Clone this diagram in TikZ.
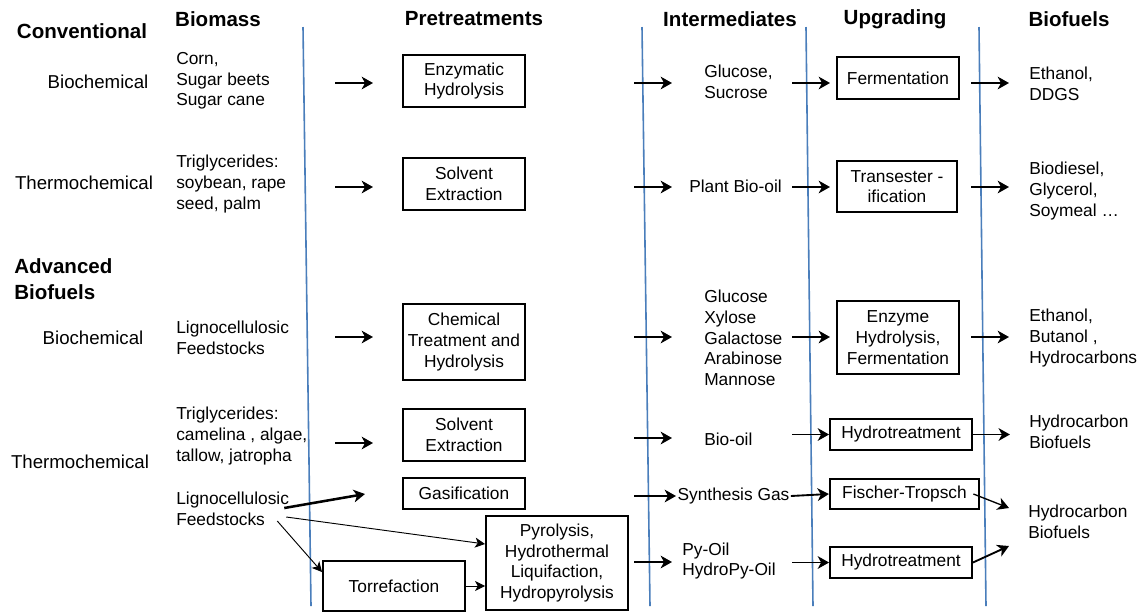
\documentclass[tikz,border=0pt]{standalone}
\usepackage{fontspec}
\setmainfont{Liberation Sans}
\usetikzlibrary{arrows.meta,calc}
\definecolor{ink}{HTML}{000000}
\definecolor{rule}{HTML}{4A7EBB}
\tikzset{
  txt/.style={font=\fontsize{13}{15.5}\selectfont,align=left,inner sep=0pt,anchor=west,text=ink},
  cat/.style={font=\fontsize{14}{16}\selectfont,inner sep=0pt,text=ink},
  hdr/.style={font=\fontsize{15.4}{19.5}\selectfont\bfseries,inner sep=0pt,text=ink},
  box/.style={draw=ink,line width=1.4pt,align=center,inner sep=1pt,font=\fontsize{13}{15.5}\selectfont},
  ar/.style={-{Stealth[length=8.5pt,width=9.5pt,inset=2.5pt]},draw=ink,line width=1.4pt},
  arl/.style={-{Stealth[length=7.5pt,width=7.5pt,inset=2pt]},draw=ink,line width=0.7pt},
  sep/.style={draw=rule,line width=1.2pt},
}
\begin{document}
\begin{tikzpicture}[x=0.75pt,y=-0.75pt]
  \useasboundingbox (0,0) rectangle (1147,612);
  % column separators
  \draw[sep] (303,27) -- (311,606);
  \draw[sep] (642,27) -- (650,606);
  \draw[sep] (806,27) -- (813,606);
  \draw[sep] (979,27) -- (986,606);
  % headers
  \node[hdr] (conv) at (82,31) {Conventional};
  \node[hdr] (h1) at (218,19) {Biomass};
  \node[hdr] (h2) at (474,19) {Pretreatments};
  \node[hdr] (h3) at (730,19) {Intermediates};
  \node[hdr] (h4) at (895,19) {Upgrading};
  \node[hdr] (h5) at (1069,19) {Biofuels};
  \node[hdr,align=left,anchor=west] (adv) at (14,279) {Advanced\\Biofuels};
  % categories
  \node[cat] (cat1) at (98,82) {Biochemical};
  \node[cat] (cat2) at (84,183) {Thermochemical};
  \node[cat] (cat3) at (93,338) {Biochemical};
  \node[cat] (cat4) at (80,462) {Thermochemical};
  % biomass
  \node[txt] (bm1) at (176,81) {Corn,\\Sugar beets\\Sugar cane};
  \node[txt] (bm2) at (176,184) {Triglycerides:\\soybean, rape\\seed, palm};
  \node[txt] (bm3) at (176,338) {Lignocellulosic\\Feedstocks};
  \node[txt] (bm4) at (176,436) {Triglycerides:\\camelina , algae,\\tallow, jatropha};
  \node[txt] (lig2) at (176,509) {Lignocellulosic\\Feedstocks};
  % pretreatments
  \node[box,minimum width=92pt,minimum height=39pt] (pe1) at (464,81) {Enzymatic\\Hydrolysis};
  \node[box,minimum width=92pt,minimum height=39pt] (pe2) at (464,184) {Solvent\\Extraction};
  \node[box,minimum width=92pt,minimum height=57pt] (pe3) at (464,342) {Chemical\\Treatment and\\Hydrolysis};
  \node[box,minimum width=92pt,minimum height=39pt] (pe4) at (464,435) {Solvent\\Extraction};
  \node[box,minimum width=92pt,minimum height=23pt] (pe5) at (464,493.5) {Gasification};
  \node[box,minimum width=106.5pt,minimum height=70.5pt] (pe6) at (557,563) {Pyrolysis,\\Hydrothermal\\Liquifaction,\\Hydropyrolysis};
  \node[box,minimum width=106.5pt,minimum height=37.5pt] (pe7) at (394,586) {Torrefaction};
  % intermediates
  \node[txt] (im1) at (704,82) {Glucose,\\Sucrose};
  \node[txt] (im2) at (689,186) {Plant Bio-oil};
  \node[txt] (im3) at (704,338) {Glucose\\Xylose\\Galactose\\Arabinose\\Mannose};
  \node[txt] (im4) at (704,439) {Bio-oil};
  \node[txt,inner sep=1pt] (syn) at (676,496) {Synthesis Gas};
  \node[txt] (im6) at (682,561) {Py-Oil\\HydroPy-Oil};
  % upgrading
  \node[box,minimum width=91.5pt,minimum height=31.5pt] (up1) at (898,78) {Fermentation};
  \node[box,minimum width=90pt,minimum height=38pt] (up2) at (897,186.5) {Transester -\\ification};
  \node[box,minimum width=91.5pt,minimum height=55pt] (up3) at (898,337.5) {Enzyme\\Hydrolysis,\\Fermentation};
  \node[box,minimum width=106.5pt,minimum height=23pt] (up4) at (901,434.5) {Hydrotreatment};
  \node[box,minimum width=112pt,minimum height=22.5pt] (up5) at (904.5,494) {Fischer-Tropsch};
  \node[box,minimum width=106.5pt,minimum height=23pt] (up6) at (901,562.5) {Hydrotreatment};
  % biofuels
  \node[txt] (bf1) at (1029,84) {Ethanol,\\DDGS};
  \node[txt] (bf2) at (1029,191) {Biodiesel,\\Glycerol,\\Soymeal …};
  \node[txt] (bf3) at (1029,338) {Ethanol,\\Butanol ,\\Hydrocarbons};
  \node[txt] (bf4) at (1029,432) {Hydrocarbon\\Biofuels};
  \node[txt] (bf5) at (1028,522) {Hydrocarbon\\Biofuels};
  % arrow columns and rows
  \coordinate (ca) at (335,0);
  \coordinate (cb) at (634,0);
  \coordinate (cc) at (792,0);
  \coordinate (cd) at (971,0);
  \coordinate (r1) at (0,83);
  \coordinate (r2) at (0,187);
  \coordinate (r3) at (0,337);
  \coordinate (r4) at (0,443);
  \coordinate (r5) at (0,438);
  \coordinate (r6) at (0,562);
  \coordinate (gasin) at (365,494);
  \coordinate (ftend) at (1009,508);
  \coordinate (htend) at (1009,546);
  \foreach \r in {r1,r2,r3} {
    \draw[ar] (ca |- \r) -- ++(38,0);
    \draw[ar] (cb |- \r) -- ++(38,0);
    \draw[ar] (cc |- \r) -- ++(38,0);
    \draw[ar] (cd |- \r) -- ++(38,0);
  }
  \draw[ar] (ca |- r4) -- ++(38,0);
  \draw[ar] (cb |- r5) -- ++(38,0);
  \draw[ar] (cc |- up4.west) -- (up4.west);
  \draw[ar] (up4.east) -- ++(37,0);
  \draw[ar] (cb |- syn.west) -- (syn.west);
  \draw[ar] (syn.east) -- (up5.west);
  \draw[ar,line width=1pt] ([xshift=-5pt]up5.east) -- (ftend);
  \draw[ar] (cb |- r6) -- ++(38,0);
  \draw[ar] (cc |- up6.west) -- (up6.west);
  \draw[ar] (up6.east) -- (htend);
  % lignocellulosic routes
  \draw[ar,line width=1.9pt] ($(lig2.east)+(-5,-1)$) -- (gasin);
  \draw[arl] ($(lig2.east)+(-3,8)$) -- ($(pe6.west)+(0,-19)$);
  \draw[arl] ($(lig2.east)+(-12,12)$) -- ($(pe7.north west)+(0,12)$);
  \draw[arl] (pe7.east) -- (pe7.east -| pe6.west);
\end{tikzpicture}
\end{document}
